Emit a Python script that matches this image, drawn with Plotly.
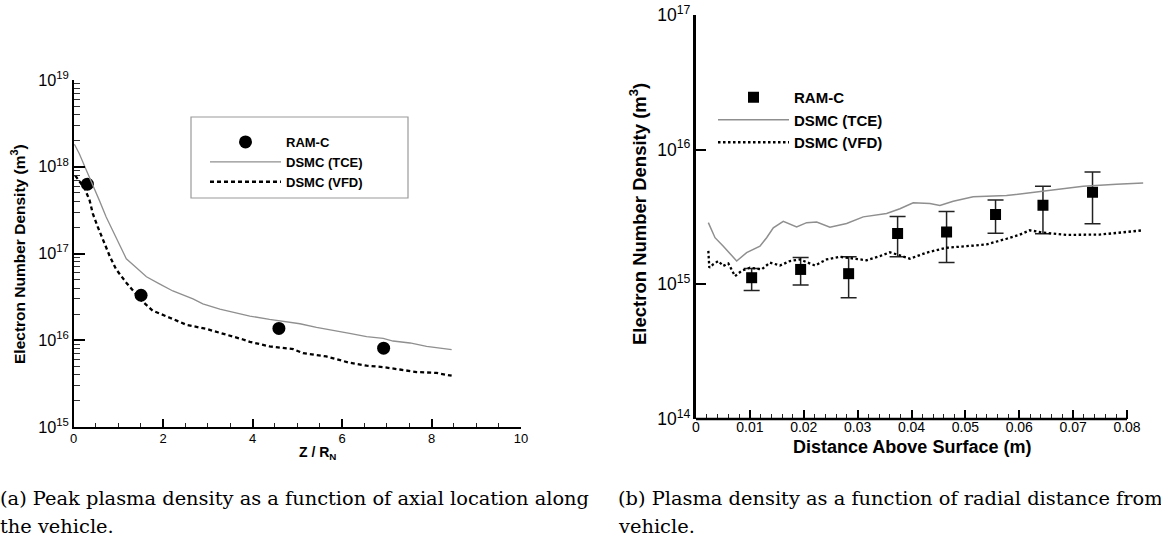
import plotly.graph_objects as go

W, H = 1161, 537

# ---------------- data: panel (a) ----------------
a_ramc_x = [0.31, 1.51, 4.59, 6.93]
a_ramc_y = [6.3e17, 3.3e16, 1.37e16, 8.1e15]

a_tce_x = [0.02, 0.13, 0.28, 0.43, 0.58, 0.73, 0.88, 1.03, 1.18, 1.40, 1.63, 1.92,
           2.22, 2.67, 2.89, 3.27, 3.71, 3.94, 4.38, 4.68, 5.06, 5.43, 5.80, 6.17,
           6.55, 6.92, 7.14, 7.52, 7.89, 8.19, 8.45]
a_tce_y = [1.82e18, 1.41e18, 9.3e17, 6.3e17, 4.07e17, 2.63e17, 1.82e17, 1.29e17,
           8.7e16, 6.9e16, 5.4e16, 4.47e16, 3.7e16, 3.0e16, 2.63e16, 2.29e16,
           2.04e16, 1.9e16, 1.74e16, 1.66e16, 1.55e16, 1.41e16, 1.29e16, 1.20e16,
           1.10e16, 1.05e16, 9.8e15, 9.3e15, 8.5e15, 8.1e15, 7.8e15]

a_vfd_x = [0.04, 0.13, 0.25, 0.36, 0.43, 0.54, 0.66, 0.81, 0.95, 1.18, 1.51, 1.77,
           2.15, 2.52, 2.97, 3.42, 3.79, 3.94, 4.38, 4.91, 5.13, 5.65, 6.17, 6.55,
           6.92, 7.29, 7.67, 8.11, 8.45]
a_vfd_y = [7.9e17, 6.9e17, 5.6e17, 4.1e17, 2.9e17, 2.04e17, 1.45e17, 9.3e16,
           6.6e16, 4.6e16, 2.9e16, 2.19e16, 1.82e16, 1.51e16, 1.35e16, 1.17e16,
           1.02e16, 9.6e15, 8.5e15, 7.9e15, 7.1e15, 6.5e15, 5.5e15, 5.1e15,
           4.9e15, 4.6e15, 4.3e15, 4.2e15, 3.9e15]

# ---------------- data: panel (b) ----------------
b_ramc_x = [0.01033, 0.01942, 0.02833, 0.03742, 0.04651, 0.0556, 0.0644, 0.0736]
b_ramc_y = [1.12e15, 1.29e15, 1.20e15, 2.39e15, 2.45e15, 3.30e15, 3.87e15, 4.83e15]
b_ramc_hi = [1.31e15, 1.58e15, 1.60e15, 3.19e15, 3.47e15, 4.22e15, 5.35e15, 6.84e15]
b_ramc_lo = [9.0e14, 9.9e14, 7.96e14, 1.60e15, 1.45e15, 2.40e15, 2.37e15, 2.82e15]

b_tce_x = [0.00229, 0.0026, 0.00353, 0.00507, 0.00755, 0.0094, 0.01187, 0.01311,
           0.01435, 0.0162, 0.01868, 0.02054, 0.0224, 0.02486, 0.02796, 0.03104,
           0.03538, 0.03785, 0.04032, 0.04341, 0.04527, 0.04774, 0.05145, 0.05764,
           0.06258, 0.06753, 0.07186, 0.07805, 0.083]
b_tce_y = [2.87e15, 2.67e15, 2.22e15, 1.92e15, 1.49e15, 1.72e15, 1.92e15, 2.22e15,
           2.63e15, 2.94e15, 2.67e15, 2.87e15, 2.90e15, 2.66e15, 2.83e15, 3.17e15,
           3.36e15, 3.64e15, 4.03e15, 3.98e15, 3.85e15, 4.14e15, 4.47e15, 4.56e15,
           4.83e15, 5.06e15, 5.35e15, 5.54e15, 5.66e15]

b_vfd_x = [0.00229, 0.00247, 0.00321, 0.00414, 0.00507, 0.006, 0.00724, 0.00848,
           0.01002, 0.01219, 0.01373, 0.01558, 0.01744, 0.0193, 0.02208, 0.02424,
           0.02672, 0.02919, 0.03166, 0.03414, 0.036, 0.03785, 0.03971, 0.0428,
           0.04651, 0.05022, 0.05393, 0.05764, 0.06011, 0.06197, 0.06444, 0.06877,
           0.07495, 0.083]
b_vfd_y = [1.77e15, 1.33e15, 1.41e15, 1.49e15, 1.37e15, 1.43e15, 1.15e15, 1.26e15,
           1.33e15, 1.29e15, 1.45e15, 1.38e15, 1.49e15, 1.53e15, 1.38e15, 1.53e15,
           1.60e15, 1.55e15, 1.51e15, 1.62e15, 1.73e15, 1.64e15, 1.55e15, 1.72e15,
           1.87e15, 1.92e15, 1.98e15, 2.18e15, 2.34e15, 2.52e15, 2.42e15, 2.33e15,
           2.34e15, 2.52e15]

a_xticks = [0, 2, 4, 6, 8, 10]
b_xticks = [0, 0.01, 0.02, 0.03, 0.04, 0.05, 0.06, 0.07, 0.08]
b_xticktext = ["0", "0.01", "0.02", "0.03", "0.04", "0.05", "0.06", "0.07", "0.08"]
b_xminor = [round(i * 0.002, 4) for i in range(41) if i % 5 != 0]

caption_a = ["(a) Peak plasma density as a function of axial location along", "the vehicle."]
caption_b = ["(b) Plasma density as a function of radial distance from the", "vehicle."]

SANS = "Liberation Sans"
SERIF = "DejaVu Serif"
GREY = "#8f8f8f"


def px(x):
    return x / W


def py(y):
    return 1 - y / H


fig = go.Figure()

# panel (a)
fig.add_trace(go.Scatter(x=a_ramc_x, y=a_ramc_y, mode="markers", name="RAM-C",
                         marker=dict(symbol="circle", size=13, color="black"),
                         xaxis="x", yaxis="y", legend="legend"))
fig.add_trace(go.Scatter(x=a_tce_x, y=a_tce_y, mode="lines", name="DSMC (TCE)",
                         line=dict(color=GREY, width=1.3),
                         xaxis="x", yaxis="y", legend="legend"))
fig.add_trace(go.Scatter(x=a_vfd_x, y=a_vfd_y, mode="lines", name="DSMC (VFD)",
                         line=dict(color="black", width=2.3, dash="4px,3px"),
                         xaxis="x", yaxis="y", legend="legend"))

# panel (b)
err_plus = [h - v for h, v in zip(b_ramc_hi, b_ramc_y)]
err_minus = [v - l for v, l in zip(b_ramc_y, b_ramc_lo)]
fig.add_trace(go.Scatter(x=b_ramc_x, y=b_ramc_y, mode="markers", name="RAM-C",
                         marker=dict(symbol="square", size=11, color="black"),
                         error_y=dict(type="data", array=err_plus, arrayminus=err_minus,
                                      symmetric=False, color="#222222", thickness=1.5, width=8),
                         xaxis="x2", yaxis="y2", legend="legend2"))
fig.add_trace(go.Scatter(x=b_tce_x, y=b_tce_y, mode="lines", name="DSMC (TCE)",
                         line=dict(color=GREY, width=1.5),
                         xaxis="x2", yaxis="y2", legend="legend2"))
fig.add_trace(go.Scatter(x=b_vfd_x, y=b_vfd_y, mode="lines", name="DSMC (VFD)",
                         line=dict(color="black", width=2.3, dash="2.5px,2.5px"),
                         xaxis="x2", yaxis="y2", legend="legend2"))

b_xmax = 0.0835
b_x0, b_x8 = 696, 1127
b_xright = b_x0 + (b_x8 - b_x0) * b_xmax / 0.08

fig.update_layout(
    width=W, height=H, margin=dict(l=0, r=0, t=0, b=0, pad=0, autoexpand=False),
    paper_bgcolor="white", plot_bgcolor="white",
    font=dict(family=SANS, color="black"),
    xaxis=dict(domain=[px(73.5), px(521)], range=[0, 10], tickvals=a_xticks,
               ticks="inside", ticklen=8, tickwidth=2, tickcolor="black",
               showline=True, linewidth=2, linecolor="black", showgrid=False, zeroline=False,
               tickfont=dict(size=13, family=SANS), ticklabelstandoff=-2, automargin=False,
               minor=dict(dtick=0.5, ticks="inside", ticklen=4, tickwidth=1.2, tickcolor="#222", showgrid=False),
               anchor="y"),
    yaxis=dict(domain=[py(427), py(80)], type="log", range=[15, 19], dtick=1,
               exponentformat="power", ticks="inside", ticklen=11, tickwidth=2, tickcolor="black",
               showline=True, linewidth=2, linecolor="black", showgrid=False, zeroline=False,
               tickfont=dict(size=13, family=SANS), automargin=False,
               minor=dict(dtick="D1", ticks="inside", ticklen=6, tickwidth=1.2, tickcolor="#333", showgrid=False),
               anchor="x"),
    xaxis2=dict(domain=[px(b_x0), px(b_xright)], range=[0, b_xmax], tickvals=b_xticks,
                ticktext=b_xticktext, ticks="inside", ticklen=9, tickwidth=2, tickcolor="black",
                showline=False, showgrid=False, zeroline=False,
                tickfont=dict(size=14, family=SANS), ticklabelstandoff=-2, automargin=False,
                minor=dict(tickmode="array", tickvals=b_xminor, ticks="inside", ticklen=5,
                           tickwidth=1.2, tickcolor="#222", showgrid=False),
                anchor="y2"),
    yaxis2=dict(domain=[py(419), py(15)], type="log", range=[14, 17], dtick=1,
                exponentformat="power", ticks="inside", ticklen=10, tickwidth=2, tickcolor="black",
                showline=True, linewidth=2.5, linecolor="black", showgrid=False, zeroline=False,
                tickfont=dict(size=14, family=SANS), automargin=False,
                anchor="x2"),
    legend=dict(x=px(205), y=py(127), xanchor="left", yanchor="top",
                bgcolor="rgba(0,0,0,0)", borderwidth=0, itemwidth=71,
                font=dict(size=13, family=SANS, weight="bold"), tracegroupgap=0),
    legend2=dict(x=px(713), y=py(81), xanchor="left", yanchor="top",
                 bgcolor="rgba(0,0,0,0)", borderwidth=0, itemwidth=71,
                 font=dict(size=15, family=SANS, weight="bold"), tracegroupgap=0),
    showlegend=True,
)

shapes = [
    # legend frame of panel (a)
    dict(type="rect", xref="paper", yref="paper", x0=px(191), x1=px(408), y0=py(198), y1=py(117),
         line=dict(color="#9a9a9a", width=1.2), fillcolor="rgba(0,0,0,0)", layer="below"),
    # x axis line of panel (b) ending at 0.08
    dict(type="line", xref="x2", yref="y2 domain", x0=0, x1=0.08, y0=0, y1=0,
         line=dict(color="black", width=2.5)),
]
fig.update_layout(shapes=shapes)

ann = [
    dict(text="<b>Electron Number Density (m<sup>3</sup>)</b>", x=px(18), y=py(254),
         textangle=-90, font=dict(size=15.5, family=SANS)),
    dict(text="<b>Z / R<sub>N</sub></b>", x=px(317), y=py(453), font=dict(size=14, family=SANS)),
    dict(text="<b>Electron Number Density (m<sup>3</sup>)</b>", x=px(638), y=py(214),
         textangle=-90, font=dict(size=18.5, family=SANS)),
    dict(text="<b>Distance Above Surface (m)</b>", x=px(912), y=py(447), font=dict(size=18, family=SANS)),
    dict(text=caption_a[0], x=px(-2), y=py(498), xanchor="left", font=dict(size=19.4, family=SERIF)),
    dict(text=caption_a[1], x=px(-2), y=py(526), xanchor="left", font=dict(size=19.4, family=SERIF)),
    dict(text=caption_b[0], x=px(616), y=py(498), xanchor="left", font=dict(size=19.4, family=SERIF)),
    dict(text=caption_b[1], x=px(616), y=py(526), xanchor="left", font=dict(size=19.4, family=SERIF)),
]
for a in ann:
    a.setdefault("xanchor", "center")
    a.setdefault("yanchor", "middle")
    a.update(xref="paper", yref="paper", showarrow=False)
fig.update_layout(annotations=ann)

fig.write_html("out.html")
